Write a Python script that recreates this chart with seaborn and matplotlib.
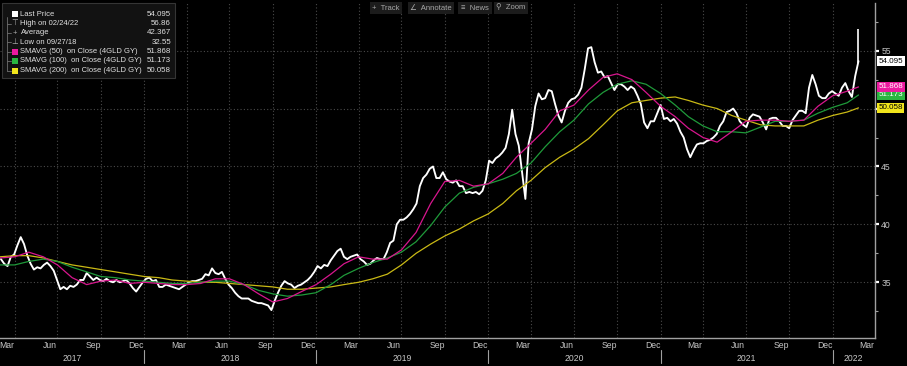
import numpy as np
import pandas as pd
import seaborn as sns
import matplotlib.pyplot as plt
import matplotlib.dates as mdates
import matplotlib.transforms as mtransforms
from matplotlib.patches import Rectangle
from matplotlib.lines import Line2D

# ---- Data (weekly closes) ----
price = [
    37.0, 36.6, 36.4, 37.2, 37.4, 38.2, 38.9, 38.3, 37.3, 36.6,
    36.1, 36.3, 36.2, 36.5, 36.7, 36.4, 36.0, 35.2, 34.4, 34.6,
    34.4, 34.7, 34.6, 34.8, 35.2, 35.2, 35.8, 35.5, 35.2, 35.4,
    35.2, 35.1, 35.3, 35.1, 35.0, 35.2, 35.0, 35.1, 35.2, 34.9,
    34.5, 34.2, 34.6, 35.0, 35.3, 35.4,
    35.1, 35.2, 34.6, 34.6, 34.8, 34.7, 34.6, 34.5, 34.4, 34.6,
    34.8, 35.0, 35.1, 35.1, 35.2, 35.3, 35.7, 35.6, 36.2, 35.8,
    35.7, 35.9, 35.3, 34.8, 34.5, 34.1, 33.8, 33.6, 33.6, 33.6,
    33.4, 33.3, 33.2, 33.2, 33.1, 33.0, 32.6, 33.4, 34.1, 34.7,
    35.1, 34.9, 34.8, 34.5,
    34.7, 34.8, 35.0, 35.2, 35.5, 35.9, 36.4, 36.2, 36.5, 36.4,
    36.9, 37.3, 37.7, 37.9, 37.2, 37.0, 37.2, 37.3, 37.4, 37.0,
    36.8, 36.5, 36.6, 36.9, 37.1, 37.0, 37.0, 37.6, 38.4, 38.6,
    40.0, 40.4, 40.4, 40.6, 40.9, 41.3, 41.8, 43.3, 44.0, 44.3,
    44.8, 45.0, 44.0,
    44.0, 44.5, 43.9, 43.7, 43.6, 43.8, 43.3,
    43.3, 42.7, 42.8, 42.7, 42.8, 42.6, 42.9, 43.8, 45.5, 45.3,
    45.7, 45.9, 46.2, 46.6, 47.8, 49.9, 47.8, 46.8, 44.5, 42.2,
    47.0, 48.2, 50.2, 51.3, 50.8, 50.9, 51.6, 51.5, 50.4, 49.4,
    48.8, 49.8, 50.5, 50.8, 50.9, 51.2,
    51.8, 53.4, 55.2, 55.3, 54.0, 53.1, 53.2, 52.7, 52.8, 52.2,
    51.6, 52.1, 52.1, 51.9, 51.6, 51.9, 51.7, 51.1, 50.4, 48.8,
    48.3, 48.9, 48.9, 49.6, 50.3, 49.1, 49.2, 48.9, 49.1, 48.7,
    48.0, 47.5, 46.5, 45.8, 46.4, 46.9, 47.0, 47.0, 47.2, 47.3,
    47.5, 47.8, 48.5, 48.9, 49.7,
    49.8, 50.0, 49.6, 48.9, 48.6, 48.4, 49.2, 49.5, 49.4,
    49.3, 48.8, 48.2, 49.1, 49.2, 49.2, 48.9, 48.5, 48.5, 48.3,
    49.0, 49.4, 49.8, 49.8, 49.6, 51.8, 52.9, 52.1, 51.1, 50.9,
    50.9, 51.3, 51.5, 51.3, 51.1, 51.8, 52.2, 51.5, 51.0, 52.8,
    54.095,
]
price_dates = pd.date_range("2017-03-03", periods=len(price), freq="W-FRI")

# moving averages, monthly readings + last value
sma_dates = list(pd.date_range("2017-03-01", "2022-02-01", freq="MS")) + [pd.Timestamp("2022-02-25")]
sma50 = [
    37.1, 37.2, 37.6, 37.2, 36.5, 35.4, 34.8, 35.1, 35.2, 34.9,
    35.0, 34.9, 34.8, 34.8, 34.9, 35.3, 35.3, 34.8, 34.0, 33.3, 33.6, 34.2,
    34.8, 35.7, 36.6, 37.2, 37.0, 37.0, 37.8, 39.3, 41.8, 43.7, 43.8, 43.3,
    43.5, 44.4, 45.8, 47.0, 48.2, 49.8, 50.3, 51.6, 52.7, 53.0, 52.5, 51.4,
    50.2, 49.3, 48.3, 47.5, 47.1, 48.0, 48.9, 49.0, 49.0, 48.9, 49.0, 50.2,
    51.1, 51.5, 51.868,
]
sma100 = [
    36.5, 36.5, 36.8, 37.0, 36.8, 36.3, 35.9, 35.5, 35.4, 35.2,
    35.1, 35.0, 34.9, 34.9, 35.0, 35.1, 35.1, 34.8, 34.3, 34.0, 33.8, 33.9,
    34.1, 34.8, 35.6, 36.2, 36.7, 37.1, 37.6, 38.5, 39.9, 41.5, 42.7, 43.2,
    43.5, 43.9, 44.4, 45.3, 46.7, 48.0, 49.0, 50.4, 51.4, 52.1, 52.4, 52.1,
    51.3, 50.3, 49.3, 48.5, 48.0, 48.0, 47.9, 48.4, 48.9, 48.9, 49.0, 49.6,
    50.1, 50.5, 51.173,
]
sma200 = [
    37.2, 37.3, 37.3, 37.1, 36.8, 36.5, 36.3, 36.1, 35.9, 35.7,
    35.5, 35.4, 35.2, 35.1, 35.0, 35.0, 34.9, 34.8, 34.7, 34.6, 34.4, 34.4,
    34.5, 34.6, 34.8, 35.0, 35.3, 35.7, 36.5, 37.5, 38.3, 39.0, 39.6, 40.3,
    40.9, 41.8, 42.9, 43.8, 44.9, 45.8, 46.5, 47.4, 48.6, 49.8, 50.5, 50.7,
    50.9, 51.0, 50.7, 50.3, 50.0, 49.4, 49.0, 48.6, 48.5, 48.5, 48.5, 49.0,
    49.4, 49.7, 50.058,
]

high_date = "2022-02-24"
high_value = 56.86
high_bar_low = 53.9

y_ticks = [35, 40, 45, 50, 55]
y_ticklabels = ["35", "40", "45", "", "55"]  # 50 sits under the 50.058 box

legend_labels = ["Last Price", "High on 02/24/22", "Average", "Low on 09/27/18",
                 "SMAVG (50)  on Close (4GLD GY)", "SMAVG (100)  on Close (4GLD GY)",
                 "SMAVG (200)  on Close (4GLD GY)"]
legend_values = ["54.095", "56.86", "42.367", "32.55", "51.868", "51.173", "50.058"]

# ---- Style ----
sns.set_theme(style="dark", rc={"axes.facecolor": "black", "figure.facecolor": "black"})
plt.rcParams["font.family"] = ["Liberation Sans", "DejaVu Sans"]

c_price = "white"
c50, c100, c200 = "#d8168e", "#1f9a3a", "#c9b915"
sw50, sw100, sw200 = "#ec1aa0", "#2ab640", "#f2e61c"
txt = "#c8c8c8"

fig = plt.figure(figsize=(9.07, 3.66), dpi=100)
ax = fig.add_axes([0, 0.0765, 0.9647, 0.9155])
ax.set_facecolor("black")

df_p = pd.DataFrame({"date": price_dates, "value": price})
df_s = pd.DataFrame({"date": sma_dates, "s50": sma50, "s100": sma100, "s200": sma200})

sns.lineplot(data=df_p, x="date", y="value", color=c_price, lw=1.35, ax=ax, zorder=3)
ax.vlines(pd.Timestamp(high_date), high_bar_low, high_value, color=c_price, lw=1.2, zorder=3)
sns.lineplot(data=df_s, x="date", y="s200", color=c200, lw=0.9, ax=ax, zorder=4)
sns.lineplot(data=df_s, x="date", y="s100", color=c100, lw=0.9, ax=ax, zorder=4)
sns.lineplot(data=df_s, x="date", y="s50", color=c50, lw=0.9, ax=ax, zorder=4)

ax.set_xlim(pd.Timestamp("2017-03-01"), pd.Timestamp("2022-04-01"))
ax.set_ylim(30.19, 59.12)
ax.set_xlabel("")
ax.set_ylabel("")

# grid: dotted, quarter starts + 5-unit levels
for d in pd.date_range("2017-04-01", "2022-01-01", freq="QS"):
    ax.axvline(d, color="#4a4a4a", lw=0.8, ls=(0, (1, 2)), zorder=1)
for v in y_ticks:
    ax.axhline(v, color="#4a4a4a", lw=0.8, ls=(0, (1, 2)), zorder=1)

# x axis
ax.xaxis.set_major_locator(mdates.MonthLocator(bymonth=[3, 6, 9, 12], bymonthday=15))
ax.xaxis.set_major_formatter(mdates.DateFormatter("%b"))
ax.xaxis.set_minor_locator(mdates.MonthLocator())
ax.tick_params(axis="x", which="major", length=0, pad=2, labelsize=6.2, labelcolor=txt)
ax.tick_params(axis="x", which="minor", length=2.5, color="#a0a0a0", direction="in")

trans = mtransforms.blended_transform_factory(ax.transData, ax.transAxes)
x0, x1 = ax.get_xlim()
for yr in range(2017, 2023):
    a = max(mdates.date2num(pd.Timestamp(f"{yr}-01-01")), x0)
    b = min(mdates.date2num(pd.Timestamp(f"{yr + 1}-01-01")), x1)
    ax.text((a + b) / 2, -0.048, str(yr), transform=trans, ha="center", va="top",
            fontsize=6.2, color=txt)
    if yr > 2017:
        ax.add_line(Line2D([a, a], [-0.036, -0.075], transform=trans, color="#a0a0a0",
                           lw=0.8, clip_on=False))

# y axis on the right
ax.yaxis.tick_right()
ax.set_yticks(y_ticks)
ax.set_yticklabels(y_ticklabels)
ax.set_yticks([32.5, 37.5, 42.5, 47.5, 52.5, 57.5], minor=True)
ax.tick_params(axis="y", which="major", length=3, width=1.6, color="white", pad=1.5,
               labelsize=6.2, labelcolor=txt, right=True)
ax.tick_params(axis="y", which="minor", length=2, width=0.8, color="#a0a0a0", right=True)

for s in ["top", "left"]:
    ax.spines[s].set_visible(False)
for s in ["right", "bottom"]:
    ax.spines[s].set_color("#a0a0a0")
    ax.spines[s].set_linewidth(1)

# last-value boxes on the right axis
ytrans = mtransforms.blended_transform_factory(ax.transAxes, ax.transData)
boxes = [(sma200[-1], sw200, "black"), (sma100[-1], sw100, "white"),
         (sma50[-1], sw50, "white"), (price[-1], "white", "black")]
for val, fc, tc in boxes:
    ax.text(1.004, val, f"{val:.3f}", transform=ytrans, ha="left", va="center",
            fontsize=5.8, color=tc, clip_on=False, zorder=6,
            bbox=dict(boxstyle="square,pad=0.18", fc=fc, ec="none"))

# ---- legend panel (top left) ----
W, H = 907, 366
fig.patches.append(Rectangle((2 / W, 1 - 78 / H), 173 / W, 75 / H, transform=fig.transFigure,
                             fc="#121212", ec="#353535", lw=0.8, zorder=4))
rows_y = [14, 23.7, 33, 42.3, 51.7, 61, 70.7]
fig.add_artist(Line2D([6.5 / W, 6.5 / W], [1 - 17 / H, 1 - 71 / H], transform=fig.transFigure,
                      color="#707070", lw=0.6, zorder=5))
swatches = ["white", None, None, None, sw50, sw100, sw200]
glyphs = [None, "⊤", "+", "⊥", None, None, None]
for i, (lab, val) in enumerate(zip(legend_labels, legend_values)):
    yy = 1 - rows_y[i] / H
    if i > 0:
        fig.add_artist(Line2D([6.5 / W, 11 / W], [yy, yy], transform=fig.transFigure,
                              color="#707070", lw=0.6, zorder=5))
    if swatches[i]:
        fig.patches.append(Rectangle((11.5 / W, yy - 3 / H), 6 / W, 6 / H,
                                     transform=fig.transFigure, fc=swatches[i], ec="none", zorder=5))
    else:
        fig.text(14.5 / W, yy, glyphs[i], ha="center", va="center", fontsize=5.5,
                 color="#b0b0b0", zorder=5)
    fig.text(20.5 / W, yy, lab, ha="left", va="center", fontsize=5.5, color="#e0e0e0", zorder=5)
    fig.text(171 / W, yy, val, ha="right", va="center", fontsize=5.7, color="#e0e0e0", zorder=5)

# ---- toolbar (top centre) ----
for label, cx in [("+  Track", 386), ("∠  Annotate", 431), ("≡  News", 475), ("⚲  Zoom", 511)]:
    fig.text(cx / W, 1 - 8 / H, label, ha="center", va="center", fontsize=5.5, color="#a8a8a8",
             zorder=5, bbox=dict(boxstyle="square,pad=0.35", fc="#1c1c1c", ec="none"))

fig.savefig("out.png", dpi=100, facecolor="black")
